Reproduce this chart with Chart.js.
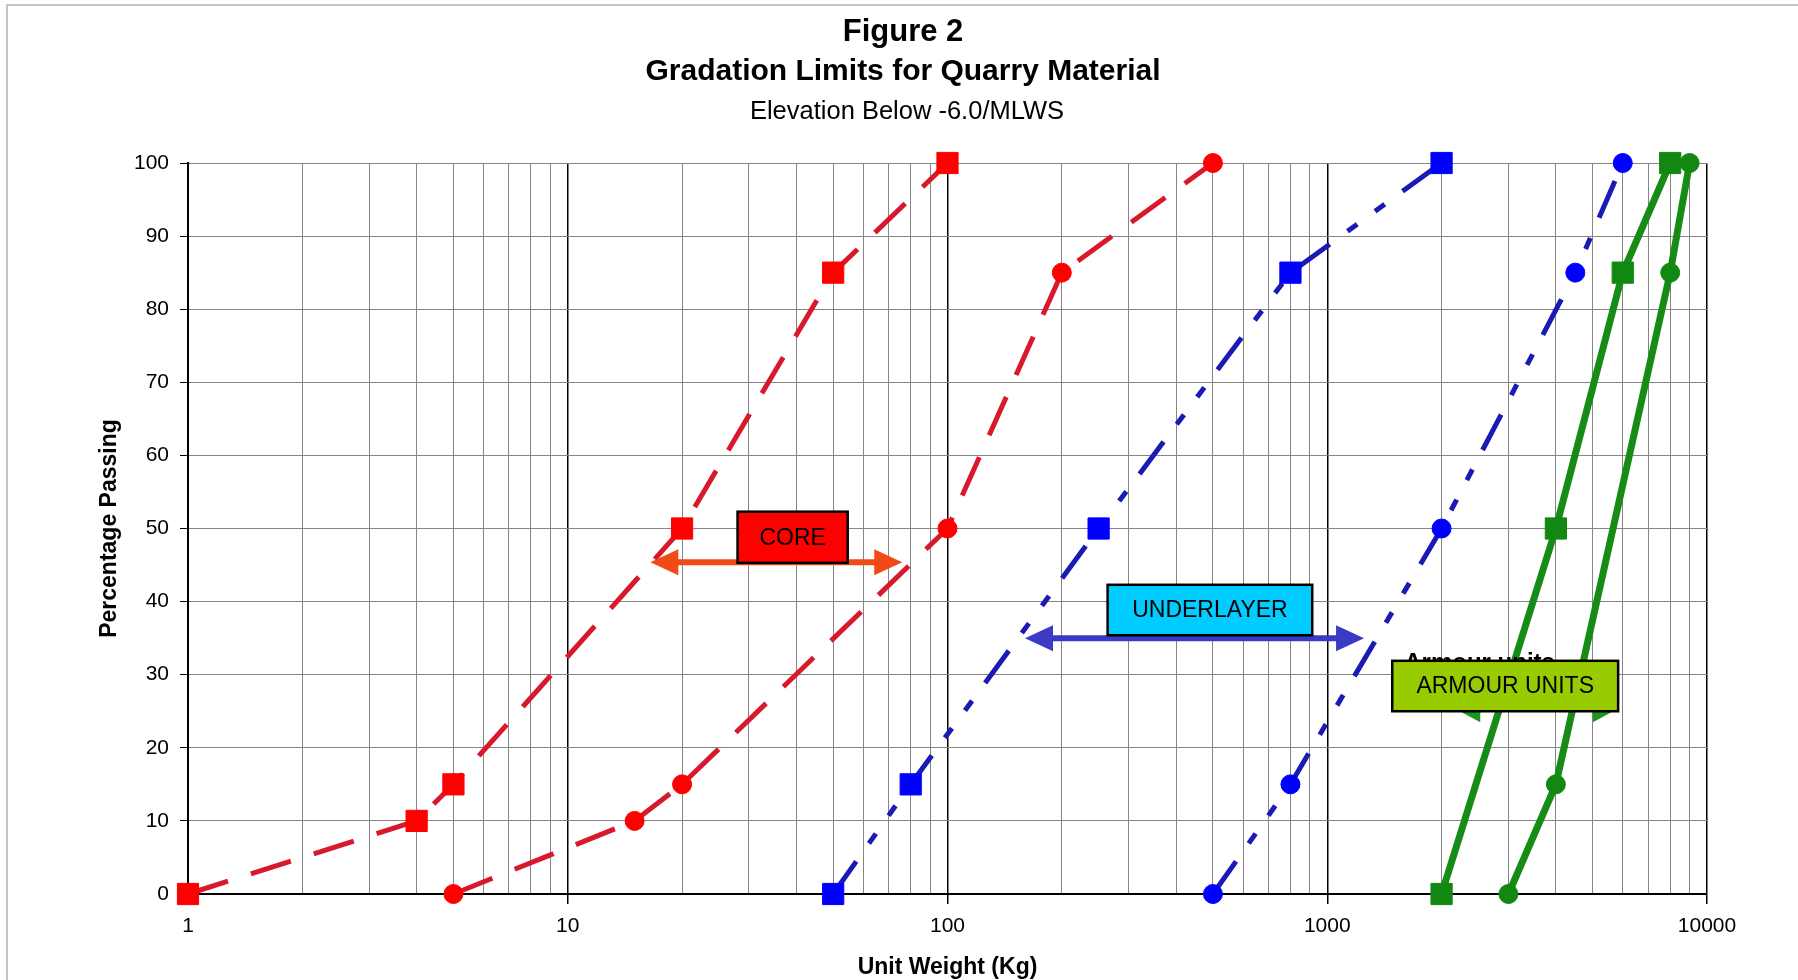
<!DOCTYPE html>
<html>
<head>
<meta charset="utf-8">
<title>Figure 2 - Gradation Limits for Quarry Material</title>
<script src="https://cdn.jsdelivr.net/npm/chart.js@4.4.1/dist/chart.umd.min.js"></script>
<style>
  html, body { margin: 0; padding: 0; background: #fff; }
  #wrap { width: 1798px; height: 980px; position: relative; }
</style>
</head>
<body>
<div id="wrap"><canvas id="myChart"></canvas></div>
<script>
// Unit weight (kg) vs percentage passing, one pair of arrays per limit curve
const coreFineX = [1, 4, 5, 20, 50, 100];
const coreFineY = [0, 10, 15, 50, 85, 100];
const coreCoarseX = [5, 15, 20, 100, 200, 500];
const coreCoarseY = [0, 10, 15, 50, 85, 100];
const underFineX = [50, 80, 250, 800, 2000];
const underFineY = [0, 15, 50, 85, 100];
const underCoarseX = [500, 800, 2000, 4500, 6000];
const underCoarseY = [0, 15, 50, 85, 100];
const armourFineX = [2000, 4000, 6000, 8000];
const armourFineY = [0, 50, 85, 100];
const armourCoarseX = [3000, 4000, 8000, 9000];
const armourCoarseY = [0, 15, 85, 100];

// Ticks
const xDecades = [1, 10, 100, 1000, 10000];
const yTicks = [0, 10, 20, 30, 40, 50, 60, 70, 80, 90, 100];

// Text
const titleLines = ['Figure 2', 'Gradation Limits for Quarry Material'];
const subTitle = 'Elevation Below -6.0/MLWS';
const xTitle = 'Unit Weight (Kg)';
const yTitle = 'Percentage Passing';

const FONT = "'Liberation Sans', Arial, Helvetica, sans-serif";
Chart.defaults.font.family = FONT;
Chart.defaults.color = '#000';

// log grid: 1..9 in every decade
const xGrid = [];
xDecades.forEach(function (d, i) {
    if (i === xDecades.length - 1) { xGrid.push(d); return; }
    for (let m = 1; m <= 9; m++) xGrid.push(d * m);
});
const isDecade = v => xDecades.includes(v);

function pts(xs, ys) {
    return xs.map((x, i) => ({ x: x, y: ys[i] }));
}

// annotation boxes/arrows, placed in data units
const notes = {
    arrows: [
        { from: 16.5, to: 76, y: 45.4, color: '#f04a16', len: 28, half: 13, width: 6 },
        { from: 160, to: 1250, y: 35.0, color: '#3a3ac6', len: 28, half: 13, width: 6 },
        { from: 2160, to: 5860, y: 25.4, color: '#1c961c', len: 26, half: 14, width: 6 }
    ],
    hidden: { text: 'Armour units', x: 1595, y: 30.6 },
    boxes: [
        { text: 'CORE', x0: 28, x1: 54.6, y0: 45.3, y1: 52.3, fill: '#ff0000' },
        { text: 'UNDERLAYER', x0: 264, x1: 913, y0: 35.4, y1: 42.3, fill: '#00ccff' },
        { text: 'ARMOUR UNITS', x0: 1483, x1: 5834, y0: 25.0, y1: 31.9, fill: '#99cc00' }
    ]
};

const notesPlugin = {
    id: 'notes',
    beforeDraw(chart) {
        const ctx = chart.ctx;
        ctx.save();
        ctx.strokeStyle = '#c4c4c4';
        ctx.lineWidth = 2;
        ctx.strokeRect(7, 5, chart.width + 20, chart.height + 20);
        ctx.restore();
    },
    afterDatasetsDraw(chart) {
        const ctx = chart.ctx;
        const xs = chart.scales.x, ys = chart.scales.y;
        ctx.save();
        notes.arrows.forEach(function (a) {
            const x1 = xs.getPixelForValue(a.from), x2 = xs.getPixelForValue(a.to);
            const y = ys.getPixelForValue(a.y);
            ctx.strokeStyle = a.color;
            ctx.fillStyle = a.color;
            ctx.lineWidth = a.width;
            ctx.beginPath();
            ctx.moveTo(x1 + a.len - 2, y);
            ctx.lineTo(x2 - a.len + 2, y);
            ctx.stroke();
            ctx.beginPath();
            ctx.moveTo(x1, y);
            ctx.lineTo(x1 + a.len, y - a.half);
            ctx.lineTo(x1 + a.len, y + a.half);
            ctx.closePath();
            ctx.fill();
            ctx.beginPath();
            ctx.moveTo(x2, y);
            ctx.lineTo(x2 - a.len, y - a.half);
            ctx.lineTo(x2 - a.len, y + a.half);
            ctx.closePath();
            ctx.fill();
        });
        // text that sits under the armour label
        ctx.fillStyle = '#000';
        ctx.font = 'bold 24px ' + FONT;
        ctx.textAlign = 'left';
        ctx.textBaseline = 'alphabetic';
        ctx.fillText(notes.hidden.text, xs.getPixelForValue(notes.hidden.x), ys.getPixelForValue(notes.hidden.y));

        notes.boxes.forEach(function (b) {
            const l = xs.getPixelForValue(b.x0), r = xs.getPixelForValue(b.x1);
            const t = ys.getPixelForValue(b.y1), btm = ys.getPixelForValue(b.y0);
            ctx.fillStyle = b.fill;
            ctx.fillRect(l, t, r - l, btm - t);
            ctx.strokeStyle = '#000';
            ctx.lineWidth = 2.5;
            ctx.strokeRect(l, t, r - l, btm - t);
            ctx.fillStyle = '#000';
            ctx.font = '23px ' + FONT;
            ctx.textAlign = 'center';
            ctx.textBaseline = 'middle';
            ctx.fillText(b.text, (l + r) / 2, (t + btm) / 2 + 1);
        });
        ctx.restore();
    },
    afterDraw(chart) {
        const ctx = chart.ctx;
        ctx.save();
        ctx.fillStyle = '#000';
        ctx.textAlign = 'center';
        ctx.textBaseline = 'middle';
        ctx.font = 'bold 31px ' + FONT;
        ctx.fillText(titleLines[0], 903, 32);
        ctx.font = 'bold 30px ' + FONT;
        ctx.fillText(titleLines[1], 903, 72);
        ctx.font = '25.5px ' + FONT;
        ctx.fillText(subTitle, 907, 112);
        ctx.restore();
    }
};

const red = '#d8192b', redMark = '#ff0000';
const blue = '#1a1ab4', blueMark = '#0000ff';
const green = '#168c16', greenMark = '#128812';

function line(label, xs, ys, color, mark, dash, width, style) {
    return {
        label: label,
        data: pts(xs, ys),
        borderColor: color,
        borderWidth: width,
        borderDash: dash,
        borderCapStyle: 'butt',
        tension: 0,
        fill: false,
        clip: false,
        pointStyle: style,
        pointRadius: style === 'rect' ? 15 : 9.5,
        pointBackgroundColor: mark,
        pointBorderColor: mark,
        pointBorderWidth: 1
    };
}

const redDash = [42, 24];
const blueDash = [40, 22, 12, 22, 12, 22];

const canvas = document.getElementById('myChart');
const myChart = new Chart(canvas, {
    type: 'line',
    data: {
        datasets: [
            line('Core fine', coreFineX, coreFineY, red, redMark, redDash, 5, 'rect'),
            line('Core coarse', coreCoarseX, coreCoarseY, red, redMark, redDash, 5, 'circle'),
            line('Underlayer fine', underFineX, underFineY, blue, blueMark, blueDash, 5, 'rect'),
            line('Underlayer coarse', underCoarseX, underCoarseY, blue, blueMark, blueDash, 5, 'circle'),
            line('Armour fine', armourFineX, armourFineY, green, greenMark, [], 7, 'rect'),
            line('Armour coarse', armourCoarseX, armourCoarseY, green, greenMark, [], 7, 'circle')
        ]
    },
    options: {
        responsive: true,
        maintainAspectRatio: false,
        animation: false,
        events: [],
        layout: { padding: { top: 163, right: 91, bottom: 0, left: 0 } },
        plugins: {
            legend: { display: false },
            tooltip: { enabled: false }
        },
        scales: {
            x: {
                type: 'logarithmic',
                min: 1,
                max: 10000,
                afterFit: function (s) { s.height = 86; },
                afterBuildTicks: function (s) { s.ticks = xGrid.map(v => ({ value: v })); },
                ticks: {
                    autoSkip: false,
                    maxRotation: 0,
                    padding: 10,
                    font: { size: 21 },
                    callback: function (v) { return isDecade(v) ? String(v) : ''; }
                },
                grid: {
                    color: c => (c.tick && isDecade(c.tick.value)) ? '#000' : '#858585',
                    lineWidth: c => (c.tick && isDecade(c.tick.value)) ? 1.5 : 1,
                    tickLength: 10,
                    tickColor: c => (c.tick && isDecade(c.tick.value)) ? '#000' : 'rgba(0,0,0,0)'
                },
                border: { color: '#000', width: 2 },
                title: {
                    display: true,
                    text: xTitle,
                    font: { size: 23, weight: 'bold', lineHeight: 1.04 },
                    padding: 0
                }
            },
            y: {
                min: 0,
                max: 100,
                afterFit: function (s) { s.width = 188; },
                afterBuildTicks: function (s) { s.ticks = yTicks.map(v => ({ value: v })); },
                ticks: { padding: 11, font: { size: 21 } },
                grid: { color: '#858585', lineWidth: 1, tickLength: 8, tickColor: '#000' },
                border: { color: '#000', width: 2 },
                title: {
                    display: true,
                    text: yTitle,
                    font: { size: 23, weight: 'bold', lineHeight: 1.2 },
                    padding: { top: 96, bottom: 0 }
                }
            }
        }
    },
    plugins: [notesPlugin]
});
</script>
</body>
</html>
